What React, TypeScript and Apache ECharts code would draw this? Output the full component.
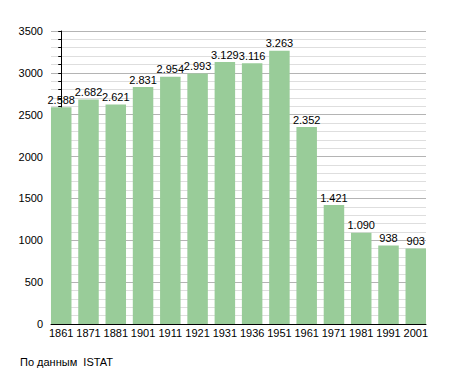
import React, { useEffect, useRef } from "react";
import * as echarts from "echarts";

const years = ["1861", "1871", "1881", "1901", "1911", "1921", "1931", "1936", "1951", "1961", "1971", "1981", "1991", "2001"];
const population = [2588, 2682, 2621, 2831, 2954, 2993, 3129, 3116, 3263, 2352, 1421, 1090, 938, 903];
const yTicks = [0, 500, 1000, 1500, 2000, 2500, 3000, 3500];
const sourceNote = "По данным  ISTAT";

const fmt = (v: number) => {
  const s = String(Math.round(v));
  return s.replace(/\B(?=(\d{3})+(?!\d))/g, ".");
};

export default function App() {
  const ref = useRef<HTMLDivElement>(null);
  useEffect(() => {
    document.body.style.margin = "0";
    if (!ref.current) return;
    const chart = echarts.init(ref.current, null, { renderer: "svg" });
    const font = "'Liberation Sans', Arial, sans-serif";
    const half = 0.375;
    chart.setOption({
      animation: false,
      backgroundColor: "#ffffff",
      grid: { left: 51, right: 29, top: 31, bottom: 49, containLabel: false },
      xAxis: {
        type: "value",
        min: -half,
        max: years.length - 1 + half,
        axisLine: { show: true, lineStyle: { color: "#000", width: 1 } },
        axisTick: { show: false },
        splitLine: { show: false },
        axisLabel: {
          customValues: years.map((_, i) => i),
          formatter: (v: number) => years[Math.round(v)] ?? "",
          color: "#000",
          fontFamily: font,
          fontSize: 11,
          margin: 3,
        },
      },
      yAxis: {
        type: "value",
        min: yTicks[0],
        max: yTicks[yTicks.length - 1],
        interval: 500,
        axisLine: { show: true, lineStyle: { color: "#000", width: 1 } },
        axisTick: { show: true, length: 3, lineStyle: { color: "#000" } },
        minorTick: { show: true, splitNumber: 5, length: 3, lineStyle: { color: "#000" } },
        splitLine: { show: true, lineStyle: { color: "#b4b4b4", width: 1 } },
        minorSplitLine: { show: true, lineStyle: { color: "#dedede", width: 1 } },
        axisLabel: {
          color: "#000",
          fontFamily: font,
          fontSize: 11,
          margin: 8,
          formatter: (v: number) => String(v),
        },
      },
      series: [
        {
          type: "bar",
          data: population.map((v, i) => [i, v]),
          barWidth: 20.5,
          itemStyle: { color: "#99cc99" },
          label: {
            show: true,
            position: "top",
            distance: 2,
            color: "#000",
            fontFamily: font,
            fontSize: 11,
            formatter: (p: any) => fmt(p.value[1]),
          },
        },
      ],
      graphic: [
        {
          type: "text",
          left: 20,
          top: 356,
          style: { text: sourceNote, fill: "#000", font: `11px ${font}` },
        },
      ],
    });
    return () => chart.dispose();
  }, []);
  return <div ref={ref} style={{ width: 455, height: 373 }} />;
}
